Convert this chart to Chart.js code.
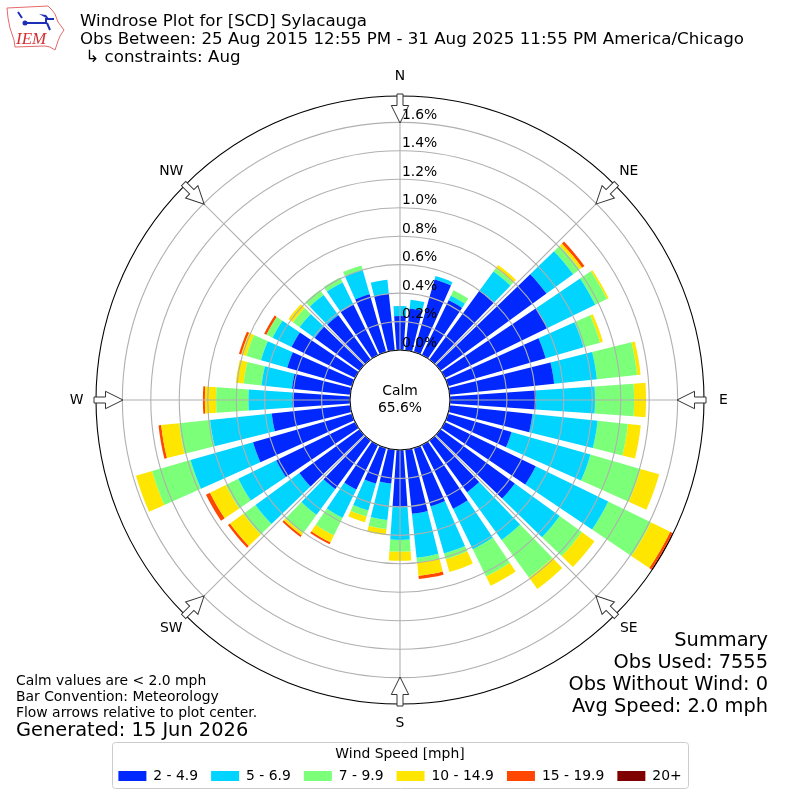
<!DOCTYPE html>
<html>
<head>
<meta charset="utf-8">
<title>Windrose SCD</title>
<script src="https://cdn.jsdelivr.net/npm/chart.js@4"></script>
<style>
  html, body { margin: 0; padding: 0; background: #fff; }
  #wrap { width: 800px; height: 800px; }
</style>
</head>
<body>
<div id="wrap"><canvas id="rose"></canvas></div>
<script>
// direction of each bar, degrees clockwise from north
const directions = [0,10,20,30,40,50,60,70,80,90,100,110,120,130,140,150,160,170,180,190,200,210,220,230,240,250,260,270,280,290,300,310,320,330,340,350];

const speed2to5 = [.239,.295,.530,.429,.598,.921,.802,.714,.738,.605,.584,.464,.710,.646,.450,.499,.426,.453,.400,.239,.260,.348,.422,.523,.616,.723,.555,.405,.412,.473,.497,.390,.385,.393,.422,.400];
const speed5to7 = [.070,.063,.025,.035,.168,.232,.373,.277,.302,.414,.461,.577,.567,.390,.414,.316,.345,.310,.232,.258,.197,.221,.224,.381,.297,.457,.436,.309,.215,.192,.148,.130,.176,.175,.178,.098];
const speed7to10 = [0,0,0,.043,.028,.056,.091,.120,.284,.275,.214,.366,.333,.192,.327,.214,.041,.033,.082,.063,.043,.138,.161,.105,.098,.281,.218,.227,.127,.107,.048,.059,.044,.039,.033,0];
const speed10to15 = [0,0,0,0,.028,.021,.014,.021,.025,.084,.091,.137,.151,.110,.099,.073,.095,.095,.065,.043,.043,.055,.017,.116,.123,.118,.127,.079,.055,.037,0,.039,0,0,0,0];
const speed15to20 = [0,0,0,0,0,.021,0,0,0,0,0,0,.018,0,0,0,0,.023,0,0,0,.015,.014,.018,.032,0,.019,.014,0,.017,.018,0,0,0,0,0];
const speed20up = [0,0,0,0,0,0,0,0,0,0,0,0,.007,0,0,0,0,0,0,0,0,0,0,0,0,0,0,0,0,0,0,0,0,0,0,0];

const speedNames = ['2 - 4.9','5 - 6.9','7 - 9.9','10 - 14.9','15 - 19.9','20+'];
const speedColors = ['#0028ff','#00d4ff','#7cff79','#ffe600','#ff4700','#7f0000'];
const speedBins = [speed2to5, speed5to7, speed7to10, speed10to15, speed15to20, speed20up];

const tickValues = [0,.2,.4,.6,.8,1,1.2,1.4,1.6];
const rMin = -0.351, rMax = 1.785;
const compass = ['N','NE','E','SE','S','SW','W','NW'];

const titleLines = ['Windrose Plot for [SCD] Sylacauga','Obs Between: 25 Aug 2015 12:55 PM - 31 Aug 2025 11:55 PM America/Chicago',' \u21b3 constraints: Aug'];
const summaryLines = ['Summary','Obs Used: 7555','Obs Without Wind: 0','Avg Speed: 2.0 mph'];
const noteLines = ['Calm values are < 2.0 mph','Bar Convention: Meteorology','Flow arrows relative to plot center.'];

// the bars stack, so each dataset holds the running total
let running = directions.map(() => 0);
const datasets = speedBins.map((bin, i) => {
  running = running.map((v, k) => v + bin[k]);
  return { label: speedNames[i], data: running.slice(), backgroundColor: speedColors[i], borderWidth: 0 };
});

const FONT = '"DejaVu Sans"';

function text(ctx, str, x, y, size, align) {
  ctx.font = size + 'px ' + FONT;
  ctx.textAlign = align || 'left';
  ctx.fillText(str, x, y);
}

function drawArrow(ctx, cx, cy, deg) {
  ctx.save();
  ctx.translate(cx, cy);
  ctx.rotate(deg * Math.PI / 180);
  ctx.beginPath();
  ctx.moveTo(0, -277);
  ctx.lineTo(8.7, -294.5);
  ctx.lineTo(3, -294.5);
  ctx.lineTo(3, -306);
  ctx.lineTo(-3, -306);
  ctx.lineTo(-3, -294.5);
  ctx.lineTo(-8.7, -294.5);
  ctx.closePath();
  ctx.fillStyle = '#fff';
  ctx.fill();
  ctx.strokeStyle = '#333';
  ctx.lineWidth = 1;
  ctx.stroke();
  ctx.restore();
}

function drawLogo(ctx) {
  ctx.save();
  ctx.strokeStyle = '#e46a6a';
  ctx.lineWidth = 1;
  ctx.beginPath();
  const outline = [[7,8],[48,6],[52,10],[55,14],[58,22],[64,30],[60,36],[58,41],[55,50],[50,47],[45,46],[15,47],[14,40],[10,28],[8,18]];
  outline.forEach((p, i) => i ? ctx.lineTo(p[0], p[1]) : ctx.moveTo(p[0], p[1]));
  ctx.closePath();
  ctx.stroke();
  ctx.strokeStyle = ctx.fillStyle = '#1c2fb8';
  ctx.lineWidth = 2;
  ctx.beginPath();
  ctx.moveTo(25, 23); ctx.lineTo(46, 23); ctx.lineTo(46, 19); ctx.lineTo(54, 19);
  ctx.moveTo(47, 23); ctx.lineTo(50, 30);
  ctx.moveTo(18, 12); ctx.lineTo(22, 18);
  ctx.stroke();
  ctx.beginPath();
  ctx.moveTo(39, 14); ctx.lineTo(46, 15); ctx.lineTo(50, 20); ctx.closePath();
  ctx.moveTo(25, 20); ctx.arc(25, 23, 2.5, 0, 7);
  ctx.fill();
  ctx.fillStyle = '#d62f2f';
  ctx.font = 'italic 17px "Liberation Serif"';
  ctx.textAlign = 'left';
  ctx.fillText('IEM', 16, 44);
  ctx.restore();
}

const rosePlugin = {
  id: 'rose',
  afterDatasetsUpdate(chart) {
    // 8 degree wide bars, each one starting where the bin below it stops
    const gap = Math.PI / 180;
    const hole = chart.scales.r.getDistanceFromCenterForValue(0);
    chart.data.datasets.forEach((ds, i) => {
      chart.getDatasetMeta(i).data.forEach((arc, k) => {
        arc.startAngle += gap;
        arc.endAngle -= gap;
        arc.innerRadius = i ? chart.getDatasetMeta(i - 1).data[k].outerRadius : hole;
      });
    });
  },
  beforeDraw(chart) {
    const ctx = chart.ctx;
    ctx.save();
    ctx.strokeStyle = '#cccccc';
    ctx.lineWidth = 1;
    ctx.beginPath();
    ctx.roundRect(112.5, 742.5, 576, 46, 3);
    ctx.stroke();
    ctx.restore();
  },
  afterDraw(chart) {
    const ctx = chart.ctx;
    const r = chart.scales.r;
    const cx = r.xCenter, cy = r.yCenter;
    const hole = r.getDistanceFromCenterForValue(0);
    ctx.save();

    // spokes
    ctx.strokeStyle = '#b0b0b0';
    ctx.lineWidth = 1.1;
    compass.forEach((name, i) => {
      const a = i * Math.PI / 4;
      ctx.beginPath();
      ctx.moveTo(cx, cy);
      ctx.lineTo(cx + 277 * Math.sin(a), cy - 277 * Math.cos(a));
      ctx.stroke();
    });

    // hole in the middle
    ctx.beginPath();
    ctx.arc(cx, cy, hole, 0, Math.PI * 2);
    ctx.fillStyle = '#fff';
    ctx.fill();
    ctx.strokeStyle = '#000';
    ctx.lineWidth = 1;
    ctx.stroke();

    compass.forEach((name, i) => drawArrow(ctx, cx, cy, i * 45));

    ctx.fillStyle = '#000';
    ctx.textBaseline = 'middle';
    compass.forEach((name, i) => {
      const a = i * Math.PI / 4;
      text(ctx, name, cx + 323.5 * Math.sin(a), cy - 323.5 * Math.cos(a), 13.9, 'center');
    });
    text(ctx, 'Calm', cx, cy - 9, 13.9, 'center');
    text(ctx, '65.6%', cx, cy + 8, 13.9, 'center');

    ctx.textBaseline = 'alphabetic';
    tickValues.forEach(v => {
      text(ctx, v.toFixed(1) + '%', cx + 2, cy - r.getDistanceFromCenterForValue(v) - 3.5, 13.9);
    });

    titleLines.forEach((t, i) => text(ctx, t, 80, 26 + i * 18, 16.67));
    summaryLines.forEach((t, i) => text(ctx, t, 768, 646 + i * 22, 19.4, 'right'));
    noteLines.forEach((t, i) => text(ctx, t, 16, 685 + i * 16, 13.9));
    text(ctx, 'Generated: 15 Jun 2026', 16, 736, 19.4);

    drawLogo(ctx);
    ctx.restore();
  }
};

new Chart(document.getElementById('rose'), {
  type: 'polarArea',
  data: { labels: directions, datasets: datasets },
  options: {
    responsive: true,
    maintainAspectRatio: false,
    animation: false,
    events: [],
    layout: { padding: { left: 96, right: 96, top: 53, bottom: 7 } },
    scales: {
      r: {
        min: rMin,
        max: rMax,
        startAngle: -5,
        afterBuildTicks(scale) {
          scale.ticks = tickValues.concat(rMax).map(v => ({ value: v }));
        },
        ticks: { display: false },
        pointLabels: { display: false },
        angleLines: { display: false },
        grid: {
          circular: true,
          z: 1,
          lineWidth: 1.1,
          color: c => (c.tick && c.tick.value === rMax) ? '#000000' : '#b0b0b0'
        }
      }
    },
    plugins: {
      tooltip: { enabled: false },
      legend: {
        position: 'bottom',
        title: { display: true, text: 'Wind Speed [mph]', color: '#000', font: { family: FONT, size: 13.9 }, padding: { top: 0, bottom: -8 } },
        labels: {
          boxWidth: 28,
          boxHeight: 10,
          padding: 13,
          color: '#000',
          font: { family: FONT, size: 13.9 },
          generateLabels: chart => chart.data.datasets.map((ds, i) => ({
            text: ds.label, fillStyle: ds.backgroundColor, strokeStyle: ds.backgroundColor, lineWidth: 0, datasetIndex: i
          }))
        }
      }
    }
  },
  plugins: [rosePlugin]
});
</script>
</body>
</html>
